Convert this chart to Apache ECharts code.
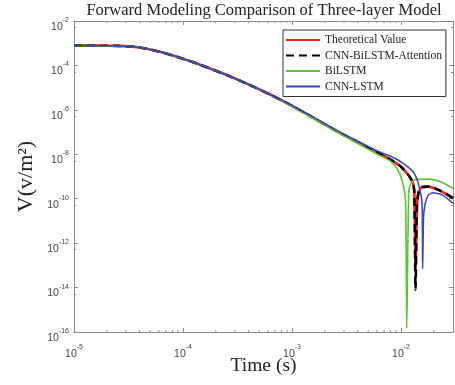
<!DOCTYPE html>
<html>
<head>
<meta charset="utf-8">
<script src="https://cdn.jsdelivr.net/npm/echarts@6/dist/echarts.min.js"></script>
<style>
  html, body { margin: 0; padding: 0; background: #fff; }
  #chart { width: 455px; height: 385px; }
</style>
</head>
<body>
<div id="chart"></div>
<script>
// legend names
const seriesNames = ['Theoretical Value', 'CNN-BiLSTM-Attention', 'BiLSTM', 'CNN-LSTM'];

// early time samples, shared by all curves (s)
const timeEarly = [1e-5, 1.585e-5, 2.512e-5, 3.162e-5, 3.981e-5, 5.012e-5, 6.31e-5, 7.943e-5, 1e-4, 1.259e-4, 1.585e-4, 2.512e-4, 3.981e-4, 6.31e-4, 1e-3, 1.585e-3, 2.512e-3, 3.981e-3, 6.31e-3];
const vEarly = [7.76e-4, 7.76e-4, 7.59e-4, 7.24e-4, 6.46e-4, 5.25e-4, 3.98e-4, 2.88e-4, 2.0e-4, 1.35e-4, 8.9e-5, 3.7e-5, 1.41e-5, 4.9e-6, 1.51e-6, 4.27e-7, 1.17e-7, 3.55e-8, 1.12e-8];
const vEarlyBi = [7.76e-4, 7.76e-4, 7.59e-4, 7.24e-4, 6.46e-4, 5.25e-4, 3.98e-4, 2.88e-4, 2.0e-4, 1.35e-4, 8.9e-5, 3.7e-5, 1.41e-5, 4.85e-6, 1.41e-6, 3.98e-7, 1.07e-7, 3.16e-8, 9.1e-9];
const vEarlyCnn = [7.76e-4, 7.76e-4, 7.59e-4, 7.24e-4, 6.46e-4, 5.25e-4, 3.98e-4, 2.88e-4, 2.0e-4, 1.35e-4, 8.9e-5, 3.7e-5, 1.41e-5, 4.95e-6, 1.58e-6, 4.57e-7, 1.29e-7, 3.98e-8, 1.29e-8];

// late times (sign change dips), per curve
const timeLate = [7.943e-3, 1e-2, 1.122e-2, 1.202e-2, 1.29e-2, 1.325e-2, 1.36e-2, 1.40e-2, 1.45e-2, 1.54e-2, 1.76e-2, 2.234e-2, 3e-2];
const theoryLate = [5.9e-9, 2.75e-9, 1.48e-9, 9.8e-10, 4.9e-10, 2.0e-10, 8e-14, 4.4e-11, 2.0e-10, 3.2e-10, 3.5e-10, 2.45e-10, 1.07e-10];
const attnLate = [5.9e-9, 2.75e-9, 1.48e-9, 9.8e-10, 4.9e-10, 2.0e-10, 8e-15, 4.4e-11, 2.0e-10, 3.2e-10, 3.5e-10, 2.45e-10, 1.07e-10];

const timeLateBi = [7.943e-3, 9.2e-3, 1.02e-2, 1.10e-2, 1.13e-2, 1.18e-2, 1.26e-2, 1.38e-2, 1.8e-2, 2.4e-2, 3e-2];
const biLate = [5.1e-9, 2.3e-9, 6.9e-10, 8.7e-11, 1.5e-16, 2.45e-10, 5.8e-10, 7.4e-10, 7.6e-10, 5.4e-10, 2.9e-10];

const timeLateCnn = [7.943e-3, 1e-2, 1.29e-2, 1.44e-2, 1.56e-2, 1.58e-2, 1.61e-2, 1.67e-2, 1.78e-2, 1.96e-2, 2.4e-2, 3e-2];
const cnnLate = [8.3e-9, 4.57e-9, 1.62e-9, 4.9e-10, 6.2e-11, 7e-14, 1.5e-11, 6.2e-11, 1.45e-10, 1.86e-10, 1.45e-10, 6.2e-11];

// log minor ticks on the time axis
const xMinorTicks = [2e-5, 3e-5, 4e-5, 5e-5, 6e-5, 7e-5, 8e-5, 9e-5, 2e-4, 3e-4, 4e-4, 5e-4, 6e-4, 7e-4, 8e-4, 9e-4, 2e-3, 3e-3, 4e-3, 5e-3, 6e-3, 7e-3, 8e-3, 9e-3, 2e-2];

const zip = (xs, ys) => xs.map((x, i) => [x, ys[i]]);

const chart = echarts.init(document.getElementById('chart'));

const powLabel = (v) => {
  const e = Math.round(Math.log10(v));
  if (Math.abs(Math.log10(v) - e) > 1e-6) return '';
  return '{b|10}{s|' + e + '}';
};
const labelRich = {
  b: { fontSize: 10.5, fontFamily: 'Liberation Sans', color: '#444', lineHeight: 16, verticalAlign: 'bottom', padding: [4, 0, 0, 0] },
  s: { fontSize: 7, fontFamily: 'Liberation Sans', color: '#444', lineHeight: 16, verticalAlign: 'top', padding: [0, 0, 4, 0] }
};
const axisColor = '#8a8a8a';

const lineSeries = (name, data, color, width, type, z) => ({
  name,
  type: 'line',
  data,
  symbol: 'none',
  smooth: 0.2,
  z,
  lineStyle: { color, width, type },
  itemStyle: { color }
});

chart.setOption({
  animation: false,
  backgroundColor: '#fff',
  title: {
    text: 'Forward Modeling Comparison of Three-layer Model',
    left: 259,
    top: -3,
    textAlign: 'center',
    textStyle: { fontFamily: 'Liberation Serif', fontSize: 16.5, fontWeight: 'normal', color: '#222' }
  },
  legend: {
    data: seriesNames,
    orient: 'vertical',
    left: 283,
    top: 30,
    padding: [4, 4, 4, 2],
    itemWidth: 34,
    itemHeight: 12,
    itemGap: 3.5,
    borderColor: '#333',
    borderWidth: 1,
    backgroundColor: '#fff',
    itemStyle: { opacity: 0 },
    textStyle: { fontFamily: 'Liberation Serif', fontSize: 11.5, color: '#222' }
  },
  grid: { left: 74, right: 2, top: 21, bottom: 53, outerBoundsMode: 'none' },
  xAxis: [
    {
      type: 'log',
      min: 1e-5,
      max: 3e-2,
      name: 'Time (s)',
      nameLocation: 'middle',
      nameGap: 24,
      nameMoveOverlap: false,
      nameTextStyle: { fontFamily: 'Liberation Serif', fontSize: 19.5, color: '#222', verticalAlign: 'top' },
      axisLine: { lineStyle: { color: axisColor } },
      axisTick: { inside: true, length: 4, lineStyle: { color: axisColor } },
      axisLabel: { formatter: powLabel, rich: labelRich, margin: 12 },
      splitLine: { show: false }
    },
    {
      type: 'log',
      position: 'top',
      min: 1e-5,
      max: 3e-2,
      axisLine: { lineStyle: { color: axisColor } },
      axisTick: { inside: true, length: 4, lineStyle: { color: axisColor } },
      axisLabel: { show: false },
      splitLine: { show: false }
    }
  ],
  yAxis: [
    {
      type: 'log',
      min: 1e-16,
      max: 1e-2,
      interval: 2,
      name: 'V(v/m²)',
      nameLocation: 'middle',
      nameRotate: 90,
      nameGap: 37,
      nameMoveOverlap: false,
      nameTextStyle: { fontFamily: 'Liberation Serif', fontSize: 22, color: '#222' },
      axisLine: { lineStyle: { color: axisColor } },
      axisTick: { inside: true, length: 4, lineStyle: { color: axisColor } },
      minorTick: { show: true, splitNumber: 2, length: 2, lineStyle: { color: axisColor } },
      axisLabel: { formatter: powLabel, rich: labelRich, margin: 5, padding: [7, 0, 0, 0] },
      splitLine: { show: false }
    },
    {
      type: 'log',
      position: 'right',
      min: 1e-16,
      max: 1e-2,
      interval: 2,
      axisLine: { lineStyle: { color: axisColor } },
      axisTick: { inside: true, length: 4, lineStyle: { color: axisColor } },
      minorTick: { show: true, splitNumber: 2, length: 2, lineStyle: { color: axisColor } },
      axisLabel: { show: false },
      splitLine: { show: false }
    }
  ],
  series: [
    lineSeries(seriesNames[0], zip(timeEarly, vEarly).concat(zip(timeLate, theoryLate)), '#ff1a1a', 2.6, 'solid', 2),
    lineSeries(seriesNames[1], zip(timeEarly, vEarly).concat(zip(timeLate, attnLate)), '#000000', 2.6, [8, 5], 3),
    lineSeries(seriesNames[2], zip(timeEarly, vEarlyBi).concat(zip(timeLateBi, biLate)), '#5cc23a', 1.6, 'solid', 4),
    lineSeries(seriesNames[3], zip(timeEarly, vEarlyCnn).concat(zip(timeLateCnn, cnnLate)), '#3a48b4', 1.6, 'solid', 5),
    {
      type: 'custom',
      silent: true,
      data: xMinorTicks,
      renderItem: (params, api) => {
        const v = api.value(0);
        const b = api.coord([v, 1e-16]);
        const t = api.coord([v, 1e-2]);
        return {
          type: 'group',
          children: [
            { type: 'line', shape: { x1: b[0], y1: b[1], x2: b[0], y2: b[1] - 2 }, style: { stroke: axisColor, lineWidth: 1 } },
            { type: 'line', shape: { x1: t[0], y1: t[1], x2: t[0], y2: t[1] + 2 }, style: { stroke: axisColor, lineWidth: 1 } }
          ]
        };
      },
      encode: { x: 0 },
      z: 1
    }
  ]
});
</script>
</body>
</html>
